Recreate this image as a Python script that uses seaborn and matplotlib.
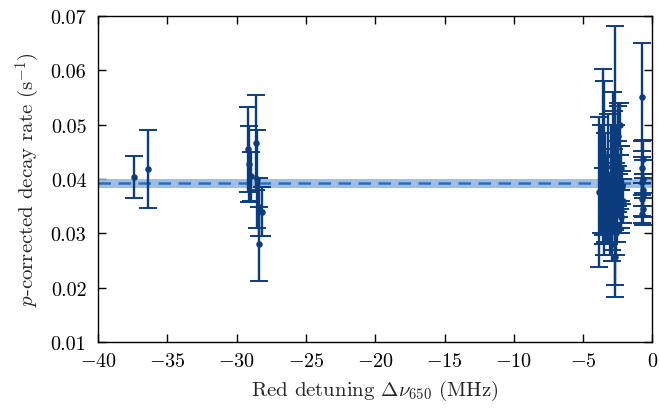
import numpy as np
import pandas as pd
import matplotlib
matplotlib.use("Agg")
import matplotlib.pyplot as plt
import seaborn as sns

# ---- data ----
detuning = [
    -37.41, -36.43,
    -29.2, -29.15, -29.0, -28.6, -28.55, -28.4, -28.2, -28.4,
    -3.83, -3.6, -3.5, -3.4, -3.3, -3.2, -3.1, -3.0, -2.95, -2.9,
    -2.85, -2.8, -2.75, -2.7, -2.68, -2.65, -2.6, -2.55, -2.5, -2.45,
    -2.4, -2.35, -2.3, -2.25, -2.2, -2.15, -3.05, -2.9, -2.6, -3.25,
    -3.55, -3.7, -2.75, -2.5, -2.35, -2.55, -2.3,
    -0.72, -0.75, -0.70, -0.68, -0.73, -0.71, -0.74, -0.69, -0.72, -0.70,
]
rate = [
    0.0404, 0.0418,
    0.0455, 0.0427, 0.0405, 0.0467, 0.0400, 0.0349, 0.0340, 0.0280,
    0.0377, 0.0450, 0.0420, 0.0385, 0.0360, 0.0400, 0.0345, 0.0410, 0.0375, 0.0330,
    0.0440, 0.0395, 0.0360, 0.0433, 0.0256, 0.0420, 0.0380, 0.0350, 0.0410, 0.0440,
    0.0370, 0.0395, 0.0345, 0.0420, 0.0385, 0.0360, 0.0300, 0.0280, 0.0300, 0.0330,
    0.0350, 0.0400, 0.0465, 0.0480, 0.0500, 0.0315, 0.0330,
    0.0551, 0.0420, 0.0437, 0.0400, 0.0395, 0.0380, 0.0363, 0.0345, 0.0335, 0.0370,
]
rate_err = [
    0.0039, 0.0072,
    0.0078, 0.0070, 0.0045, 0.0087, 0.0090, 0.0053, 0.0045, 0.0068,
    0.0138, 0.0153, 0.0160, 0.0100, 0.0080, 0.0120, 0.0065, 0.0090, 0.0070, 0.0060,
    0.0120, 0.0060, 0.0050, 0.0249, 0.0050, 0.0080, 0.0050, 0.0040, 0.0060, 0.0100,
    0.0040, 0.0050, 0.0035, 0.0040, 0.0030, 0.0040, 0.0040, 0.0030, 0.0040, 0.0050,
    0.0070, 0.0100, 0.0060, 0.0055, 0.0040, 0.0030, 0.0030,
    0.0099, 0.0050, 0.0035, 0.0035, 0.0045, 0.0030, 0.0030, 0.0030, 0.0015, 0.0040,
]
mean_rate = 0.0392
mean_err = 0.0009

x_ticks = [-40, -35, -30, -25, -20, -15, -10, -5, 0]
y_ticks = [0.01, 0.02, 0.03, 0.04, 0.05, 0.06, 0.07]

df = pd.DataFrame({"detuning": detuning, "rate": rate, "err": rate_err})

# ---- style ----
sns.set_theme(style="ticks")
plt.rcParams["font.family"] = "serif"
plt.rcParams["font.serif"] = ["cmr10"]
plt.rcParams["mathtext.fontset"] = "cm"
plt.rcParams["axes.formatter.use_mathtext"] = True
plt.rcParams["axes.unicode_minus"] = True

dark = "#0b3d7e"
band_col = "#8db4de"
line_col = "#2f6db5"

fig = plt.figure(figsize=(6.59, 4.10), dpi=100)
ax = fig.add_axes([0.149, 0.163, 0.841, 0.7955])

ax.axhspan(mean_rate - mean_err, mean_rate + mean_err, color=band_col, alpha=0.85, lw=0, zorder=1)
ax.axhline(mean_rate, color=line_col, lw=1.8, ls=(0, (5, 3)), zorder=2)

ax.errorbar(df["detuning"], df["rate"], yerr=df["err"], fmt="none",
            ecolor=dark, elinewidth=1.7, capsize=6.5, capthick=1.4, zorder=3)
sns.scatterplot(data=df, x="detuning", y="rate", ax=ax, color=dark, s=22,
                edgecolor=dark, linewidth=0, zorder=4, legend=False)

ax.set_xlim(-40, 0)
ax.set_ylim(0.01, 0.07)
ax.set_xticks(x_ticks)
ax.set_yticks(y_ticks)
ax.set_yticklabels([f"{v:.2f}" for v in y_ticks])
ax.tick_params(direction="in", top=True, right=True, length=6, width=1,
               labelsize=14.5, colors="black")
ax.tick_params(axis="x", pad=7)
ax.tick_params(axis="y", pad=8.5)
for s in ax.spines.values():
    s.set_color("black")
    s.set_linewidth(1.0)

ax.set_xlabel(r"Red detuning $\Delta\nu_{650}$ (MHz)", fontsize=15, labelpad=6)
ax.set_ylabel(r"$p$-corrected decay rate (s$^{-1}$)", fontsize=15, labelpad=6)

fig.savefig("out.png", dpi=100)
